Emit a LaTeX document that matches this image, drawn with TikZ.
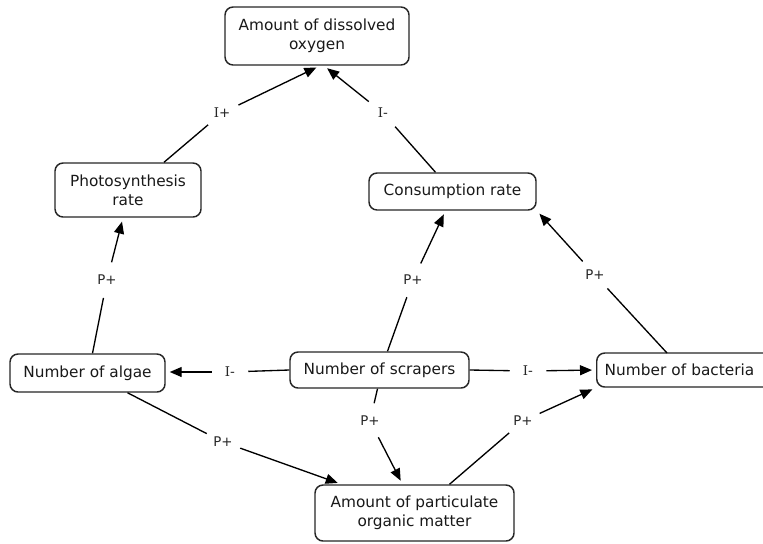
\documentclass[tikz,border=0pt]{standalone}
\usepackage{fontspec}
\setmainfont{DejaVu Sans}
\newfontfamily\serifI{DejaVu Serif}
\usetikzlibrary{arrows.meta}
\tikzset{
  concept/.style={draw=black!85, line width=1.1pt, rounded corners=6pt, fill=white,
    align=center, inner sep=0pt, font=\fontsize{11.5}{14}\selectfont, text=black!90},
  linklbl/.style={circle, minimum size=27pt, inner sep=0pt, font=\fontsize{10}{12}\selectfont, text=black!85},
  conn/.style={line width=1pt, black},
  arr/.style={conn, -{Triangle[length=9pt,width=7.5pt]}, shorten >=3pt},
}
\newcommand{\Iletter}{{\serifI I}}
\begin{document}
\begin{tikzpicture}[x=0.75pt,y=-0.75pt]
\useasboundingbox (0,0) rectangle (763,543);
% concepts
\node[concept, minimum width=138pt, minimum height=43.5pt] (oxy) at (317,36) {Amount of dissolved\\oxygen};
\node[concept, minimum width=109.5pt, minimum height=40.5pt] (photo) at (128,190) {Photosynthesis\\rate};
\node[concept, minimum width=125.25pt, minimum height=27.75pt] (cons) at (452.5,191.5) {Consumption rate};
\node[concept, minimum width=116.25pt, minimum height=28.5pt] (algae) at (87.5,373) {Number of algae};
\node[concept, minimum width=134.25pt, minimum height=27pt] (scrap) at (379.5,370) {Number of scrapers};
\node[concept, anchor=west, minimum width=145.5pt, minimum height=25.5pt, inner xsep=6pt, text width=133.5pt, align=left] (bact) at (596,370) {Number of bacteria};
\node[concept, minimum width=149.25pt, minimum height=42pt] (part) at (414.5,513) {Amount of particulate\\organic matter};
% link labels
\node[linklbl] (l1) at (222,113) {\Iletter+};
\node[linklbl] (l2) at (383,113) {\Iletter-};
\node[linklbl] (l3) at (107,280) {P+};
\node[linklbl] (l4) at (413,280) {P+};
\node[linklbl] (l5) at (595,275) {P+};
\node[linklbl] (l6) at (230,372) {\Iletter-};
\node[linklbl] (l7) at (528,371) {\Iletter-};
\node[linklbl] (l8) at (223,442) {P+};
\node[linklbl] (l9) at (370,421) {P+};
\node[linklbl] (l10) at (523,421) {P+};
% connections
\draw[conn] ([shift={(36,0)}]photo.north) -- (l1);
\draw[arr] (l1) -- ([shift={(3,0)}]oxy.south);
\draw[conn] ([shift={(-17,0)}]cons.north) -- (l2);
\draw[arr] (l2) -- ([shift={(7,0)}]oxy.south);
\draw[conn] ([shift={(5,0)}]algae.north) -- (l3);
\draw[arr] (l3) -- ([shift={(-5,0)}]photo.south);
\draw[conn] ([shift={(8,0)}]scrap.north) -- (l4);
\draw[arr] (l4) -- ([shift={(-7,0)}]cons.south);
\draw[conn] ([shift={(71,-17)}]bact.west) -- (l5);
\draw[arr] (l5) -- (cons.south east);
\draw[conn] (scrap.west) -- (l6);
\draw[arr] (l6) -- (algae.east |- l6);
\draw[conn] (scrap.east) -- (l7);
\draw[arr] (l7) -- (bact.west);
\draw[conn] ([shift={(40,0)}]algae.south) -- (l8);
\draw[arr] (l8) -- ([shift={(-73,0)}]part.north);
\draw[conn] ([shift={(-2,0)}]scrap.south) -- (l9);
\draw[arr] (l9) -- ([shift={(-12,0)}]part.north);
\draw[conn] ([shift={(35,0)}]part.north) -- (l10);
\draw[arr] (l10) -- (bact.south west);
\end{tikzpicture}
\end{document}
